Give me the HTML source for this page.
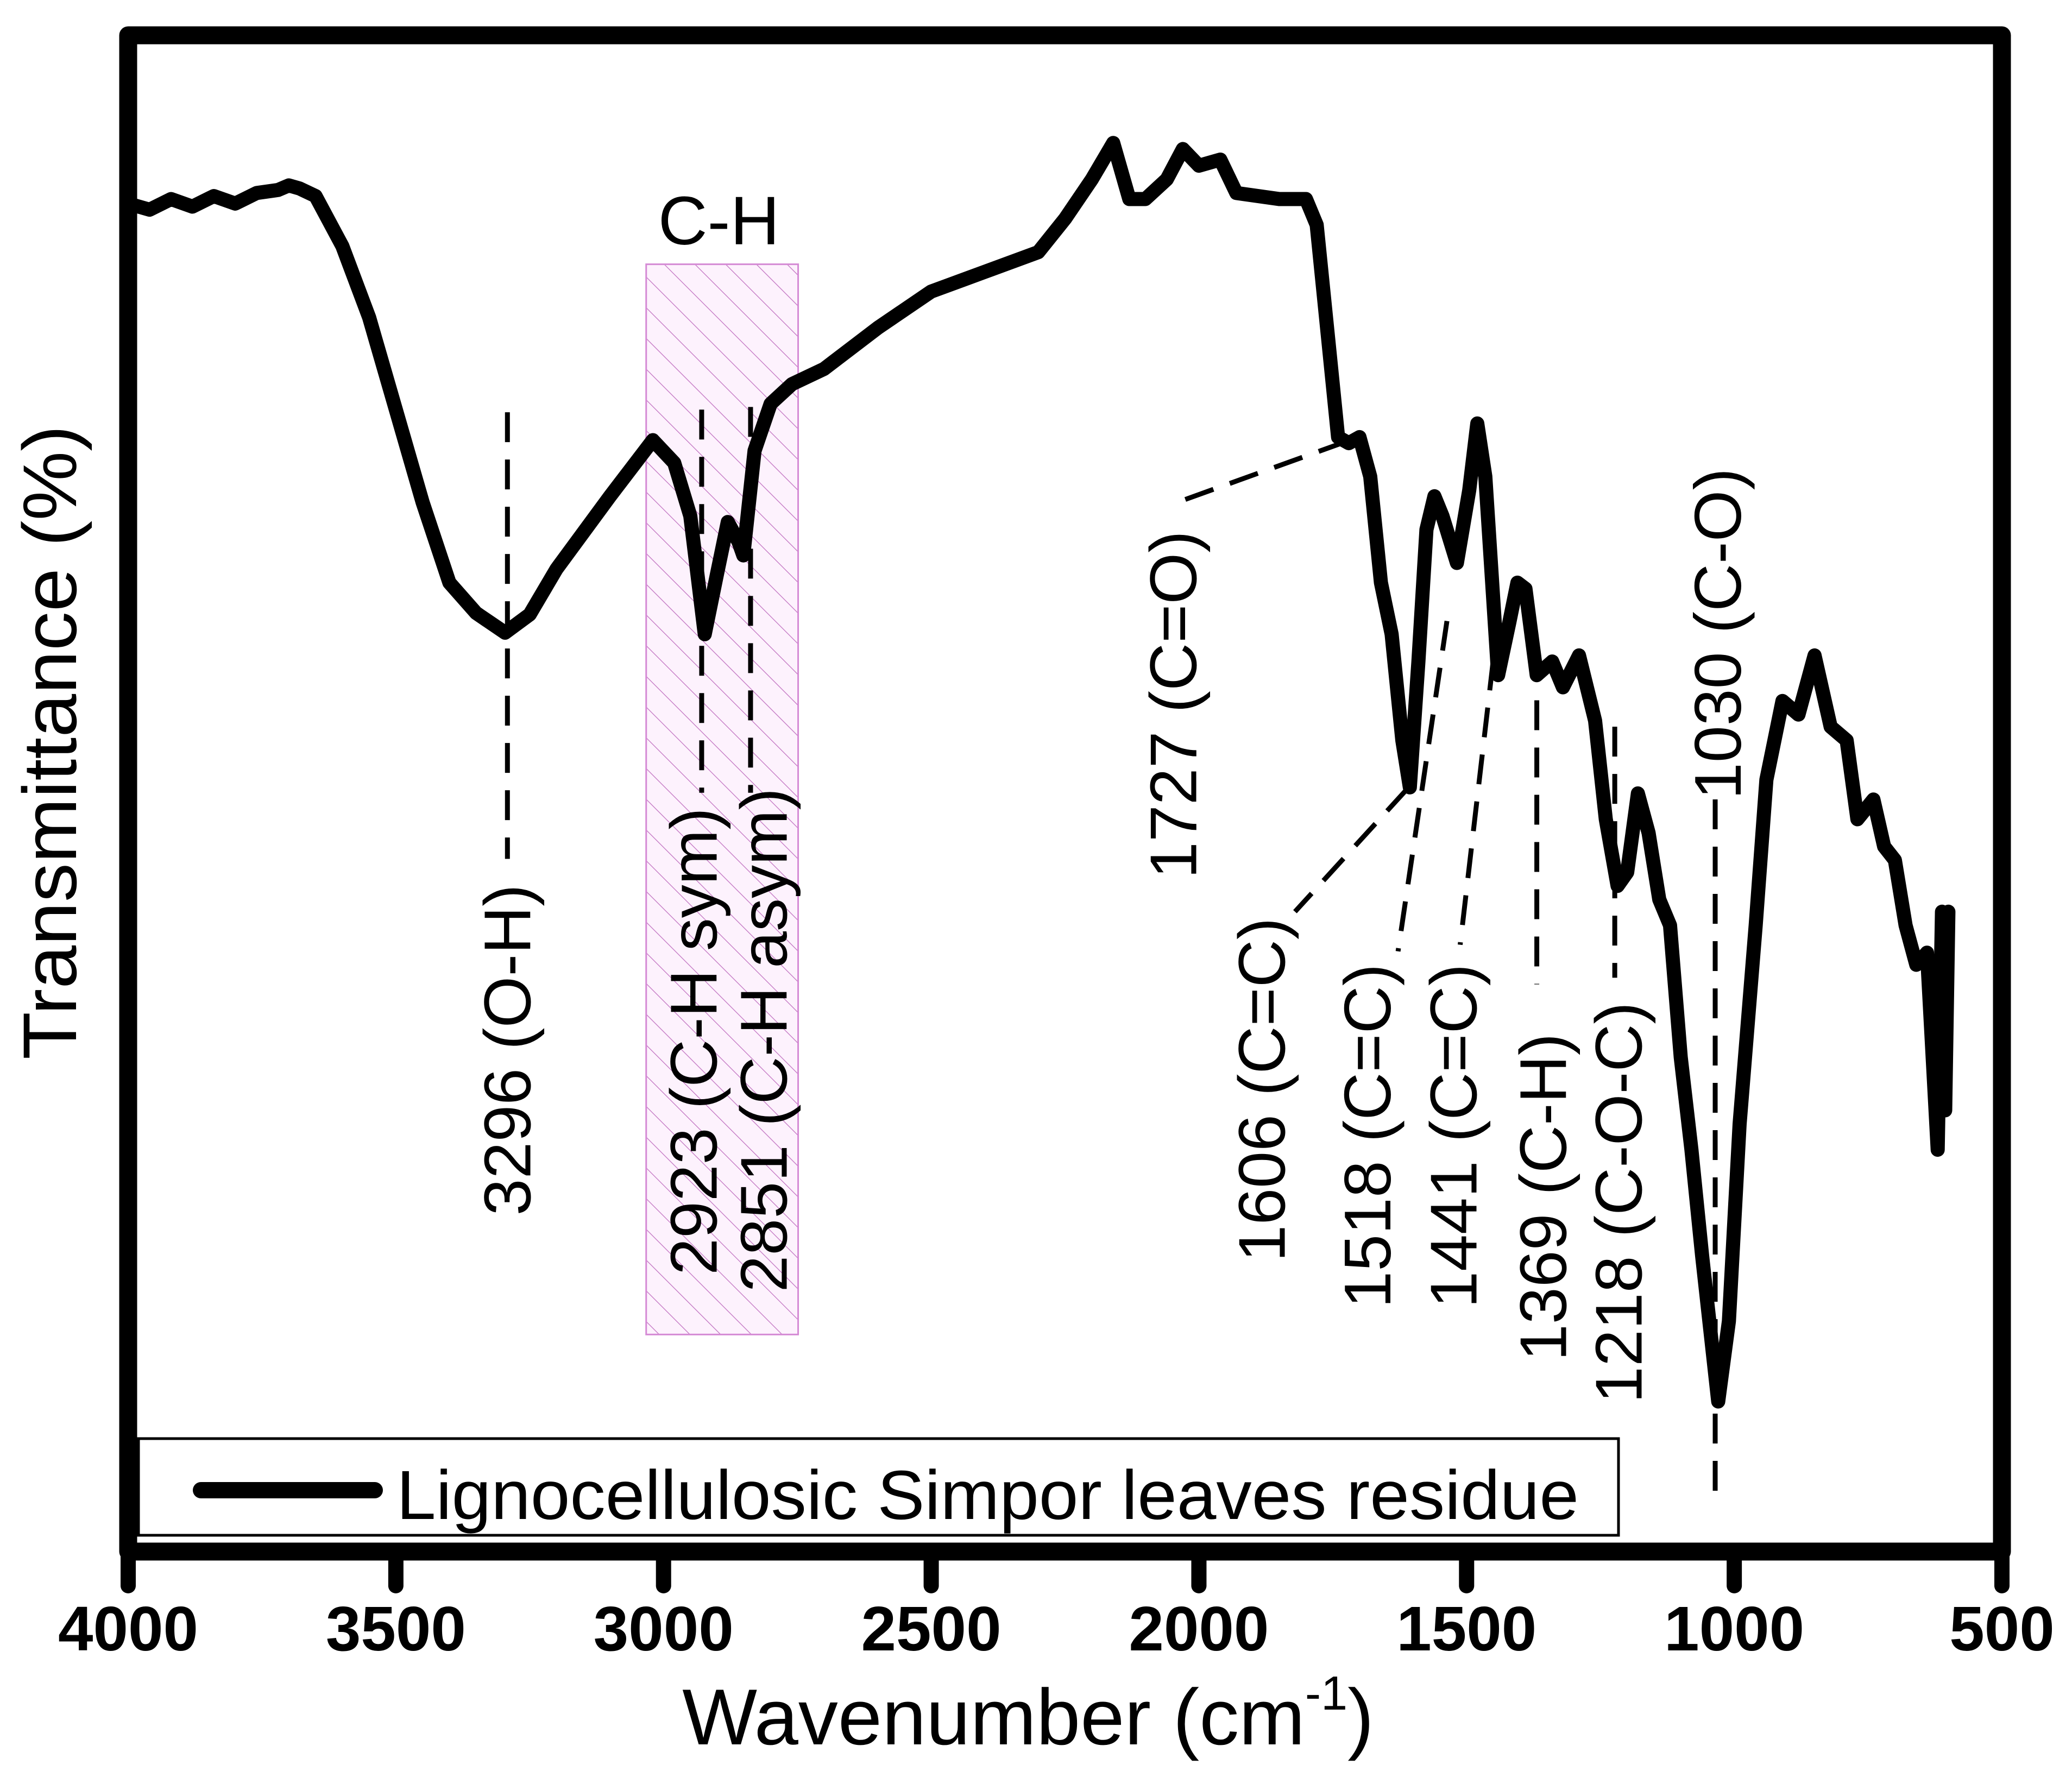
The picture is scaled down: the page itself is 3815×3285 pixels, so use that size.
<!DOCTYPE html>
<html><head><meta charset="utf-8"><style>
html,body{margin:0;padding:0;background:#fff;}
svg{display:block;}
text{font-family:"Liberation Sans",Arial,sans-serif;fill:#000;}
</style></head><body>
<svg id="chart" width="3815" height="3285" viewBox="0 0 3815 3285" xmlns="http://www.w3.org/2000/svg">
<defs>
<pattern id="hatch" patternUnits="userSpaceOnUse" width="40" height="40" patternTransform="rotate(-45)">
<rect width="40" height="40" fill="#fdf2fd"/>
<line x1="0" y1="0" x2="0" y2="40" stroke="#c070c0" stroke-width="2.5"/>
</pattern>
</defs>
<g id="plot"></g>
</svg>
<script>
const wavenumbers = [4000,3960,3920,3880,3840,3800,3760,3720,3700,3680,3650,3600,3550,3500,3450,3400,3350,3296,3250,3200,3100,3020,2980,2950,2923,2900,2880,2860,2851,2830,2800,2760,2700,2600,2500,2400,2300,2250,2200,2160,2130,2100,2060,2030,2000,1960,1930,1850,1800,1780,1760,1740,1720,1700,1680,1660,1640,1620,1606,1590,1575,1560,1545,1518,1495,1480,1465,1441,1420,1405,1390,1369,1340,1320,1290,1260,1240,1218,1200,1180,1160,1140,1120,1100,1080,1060,1030,1010,990,960,940,910,880,850,820,790,770,740,720,700,680,660,640,620,612,606,600];
const transmittance = [88.9,88.5,89.2,88.7,89.4,88.9,89.6,89.8,90.1,89.9,89.4,86.1,81.4,75.3,69.2,63.9,61.9,60.6,61.8,64.8,69.6,73.3,71.8,68.3,60.5,64.5,67.9,66.6,65.7,72.6,75.7,77.0,78.0,80.7,83.1,84.4,85.7,87.9,90.5,92.9,89.2,89.2,90.5,92.5,91.4,91.8,89.6,89.2,89.2,87.5,80.5,73.5,73.1,73.5,70.9,63.9,60.5,53.5,50.4,58.7,67.4,69.6,68.3,65.2,70.0,74.4,70.9,57.8,61.3,63.9,63.5,57.8,58.7,57.0,59.1,54.8,48.3,43.9,44.8,50.0,47.4,43.0,41.3,32.6,26.5,19.5,9.9,15.2,28.2,41.3,50.9,56.1,55.2,59.1,54.4,53.5,48.3,49.6,46.5,45.6,41.3,38.7,39.5,26.5,42.2,29.1,42.2];
const xTicks = [4000,3500,3000,2500,2000,1500,1000,500];
const peakLabels = ["3296 (O-H)","2923 (C-H sym)","2851 (C-H asym)","1727 (C=O)","1606 (C=C)","1518 (C=C)","1441 (C=C)","1369 (C-H)","1218 (C-O-C)","1030 (C-O)"];

const L=236,R=3686,T=65,B=2857;
const NS="http://www.w3.org/2000/svg";
function xs(w){return L+(4000-w)/3500*(R-L);}
function ys(v){return B-v/100*(B-T);}
const D=v=>v*2.433;
const g=document.getElementById('plot');
function el(tag,attrs,parent){const e=document.createElementNS(NS,tag);for(const k in attrs)e.setAttribute(k,attrs[k]);(parent||g).appendChild(e);return e;}

let r=el('rect',{x:D(489),y:D(200),width:D(115),height:D(810),fill:'url(#hatch)',stroke:'#d58ad5','stroke-width':3});


let t=el('text',{x:D(544),y:D(185),'font-size':126,'text-anchor':'middle'});
t.textContent='C-H';



const dashes=[[384,312,384,650],[531,310,531,600],[568,308,568,600],[897,378,1022,333],[1065,597,980,690],[1095,470,1058,720],[1130,500,1105,715],[1163,530,1163,745],[1222,550,1222,740],[1298,605,1298,1130]];
dashes.forEach(d=>{
  const ln=el('line',{x1:D(d[0]),y1:D(d[1]),x2:D(d[2]),y2:D(d[3]),stroke:'#000','stroke-width':9,'stroke-dasharray':'55 32'});
  
  
});

const labPos=[[384,920],[525,965],[578,978],[888,665],[955,955],[1035,990],[1100,990],[1168,1030],[1225,1062],[1300,605]];
peakLabels.forEach((s,i)=>{
  const cx=D(labPos[i][0])+42, by=D(labPos[i][1]);
  const tx=el('text',{x:cx,y:by,'font-size':122,transform:`rotate(-90 ${cx} ${by})`});
  tx.textContent=s;
  
  
});

let dpath=wavenumbers.map((w,i)=>(i?'L':'M')+xs(w).toFixed(1)+' '+ys(transmittance[i]).toFixed(1)).join(' ');
let p=el('path',{d:dpath,fill:'none',stroke:'#000','stroke-width':26,'stroke-linejoin':'round','stroke-linecap':'round'});



let lg=el('rect',{x:255,y:2649,width:2725,height:178,fill:'#fff',stroke:'#000','stroke-width':5});


let ll=el('line',{x1:370,y1:2744,x2:690,y2:2744,stroke:'#000','stroke-width':30,'stroke-linecap':'round'});


let lt=el('text',{x:730,y:2797,'font-size':128,textLength:2177,lengthAdjust:'spacingAndGlyphs'});
lt.textContent='Lignocellulosic Simpor leaves residue';



let fr=el('rect',{x:L,y:T,width:R-L,height:B-T,fill:'none',stroke:'#000','stroke-width':33,'stroke-linejoin':'round'});



xTicks.forEach(w=>{
  const tk=el('line',{x1:xs(w),y1:B,x2:xs(w),y2:2920,stroke:'#000','stroke-width':28,'stroke-linecap':'round'});
  
  
  const tl=el('text',{x:xs(w),y:3039,'font-size':116,'font-weight':'bold','text-anchor':'middle'});
  tl.textContent=String(w);
  
  
});

let xt=el('text',{x:1893,y:3212,'font-size':146,'text-anchor':'middle'});
xt.innerHTML='Wavenumber (cm<tspan font-size="88" dy="-64">-1</tspan><tspan dy="64">)</tspan>';


let yt=el('text',{x:140,y:1367,'font-size':140,'text-anchor':'middle',textLength:1168,lengthAdjust:'spacingAndGlyphs',transform:'rotate(-90 140 1367)'});
yt.textContent='Transmittance (%)';


</script>
</body></html>
